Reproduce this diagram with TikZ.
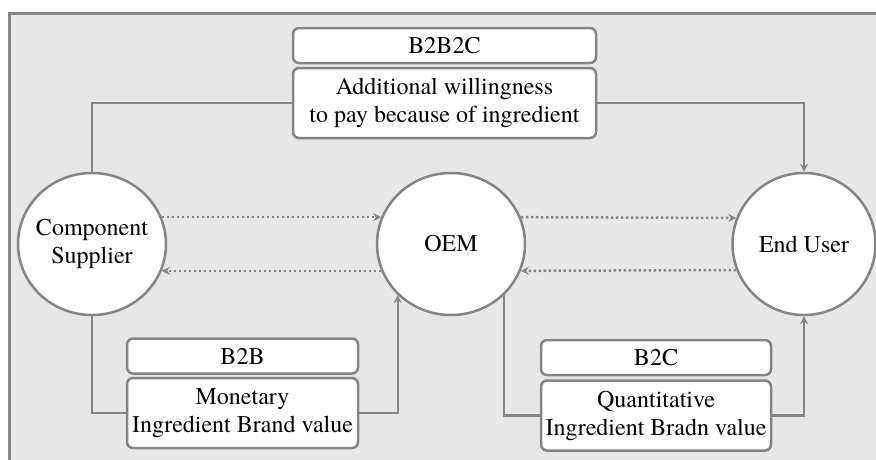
\documentclass[tikz,border=0pt]{standalone}
\usepackage{fontspec}
\setmainfont{texgyretermes}[Extension=.otf,UprightFont=*-regular,BoldFont=*-bold]
\usetikzlibrary{shapes.geometric}
\definecolor{linegray}{HTML}{858585}
\definecolor{backgray}{HTML}{E8E8E8}

\begin{document}
\begin{tikzpicture} [x=1pt,y=-1pt,every node/.style={font=\fontsize{24}{28}\selectfont,align=center},
	party/.style={ellipse,draw=linegray,line width=2.5pt,fill=white,minimum width=148,minimum height=142,inner sep=-12pt},
	tagbox/.style={rectangle,rounded corners=6pt,draw=linegray,line width=2.5pt,fill=white,minimum height=35,inner sep=0},
	valbox/.style={tagbox,minimum height=70},
	link/.style={draw=linegray,line width=2.5pt},
	flow/.style={link,-stealth,dash pattern=on 2.5pt off 2.5pt}]
	\useasboundingbox (0,0) rectangle (876,459);
	\clip (0,0) rectangle (876,459);
	\fill[backgray] (9,13) rectangle (900,480);
	\draw[linegray,line width=3pt] (9,480) -- (9,13) -- (900,13);
	\node[party] (cs) at (92,244) {Component\\Supplier};
	\node[party] (oem) at (451,244) {OEM};
	\node[party,minimum width=143] (eu) at (804,244) {End User};
	\node[tagbox,minimum width=303] (b2b2c) at (444.5,45.5) {B2B2C};
	\node[valbox,minimum width=303] (wtp) at (444.5,103) {Additional willingness\\to pay because of ingredient};
	\node[tagbox,minimum width=231] (b2b) at (242.5,356) {B2B};
	\node[valbox,minimum width=231] (mon) at (242.5,413) {Monetary\\Ingredient Brand value};
	\node[tagbox,minimum width=230] (b2c) at (656,357.5) {B2C};
	\node[valbox,minimum width=230] (qua) at (656,415.5) {Quantitative\\Ingredient Bradn value};
	\foreach \from/\to in {cs.21/oem.159,oem.201/cs.339,oem.21/eu.159,eu.201/oem.339}
		\draw [flow] (\from) -- (\to);
	\draw [link] (cs.north) |- (wtp.west);
	\draw [link,-stealth] (wtp.east) -| (eu.north);
	\draw [link] (cs.south) |- (mon.west);
	\draw [link,-stealth] (mon.east) -| (oem.south west);
	\draw [link] (oem.south east) |- (qua.west);
	\draw [link,-stealth] (qua.east) -| (eu.south);
\end{tikzpicture}
\end{document}
